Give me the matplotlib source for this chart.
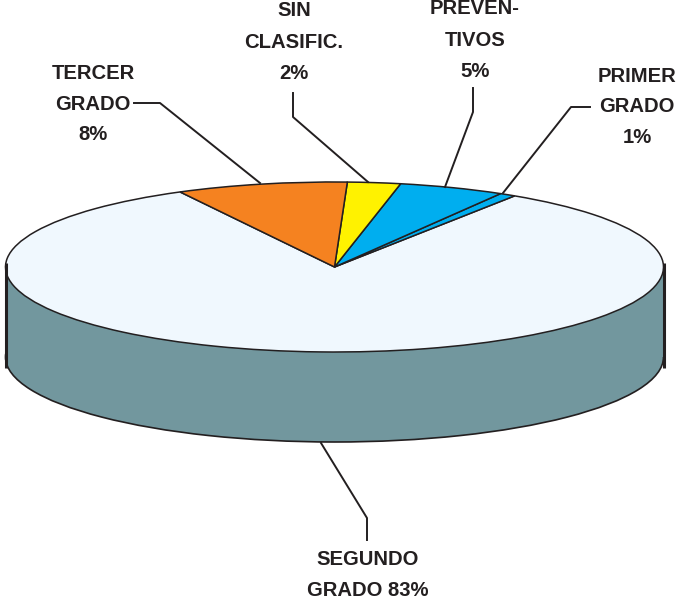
import matplotlib
matplotlib.use("Agg")
import matplotlib.pyplot as plt

# porciones (las etiquetas llevan el % redondeado)
categorias = ["SEGUNDO GRADO", "PRIMER GRADO", "PREVENTIVOS", "SIN CLASIFIC.", "TERCER GRADO"]
valores = [83.0, 0.8, 5.2, 2.6, 8.4]
colores = ["#f0f8fe", "#00aeef", "#00aeef", "#fff200", "#f58220"]
etiquetas = ["SEGUNDO\nGRADO 83%", "PRIMER\nGRADO\n1%", "PREVEN-\nTIVOS\n5%", "SIN\nCLASIFIC.\n2%", "TERCER\nGRADO\n8%"]

W, H = 678, 602
CX, CY = 334.5, 267   # centro de la tapa en pixeles
RX, RY = 329, 85      # semiejes de la elipse
PROF = 90             # alto del cilindro
NEGRO = "#231f20"
LATERAL = "#72979e"

plt.rcParams["font.family"] = ["Liberation Sans", "DejaVu Sans"]
fig = plt.figure(figsize=(W / 100, H / 100), dpi=100)
ax = fig.add_axes([0, 0, 1, 1])

# lateral del cilindro: misma torta corrida hacia abajo
p = PROF / RY
ax.pie([1], colors=[LATERAL], center=(0, -p), radius=1, startangle=0,
       wedgeprops=dict(edgecolor=NEGRO, linewidth=1.2))
ax.fill_between([-1, 1], [-p, -p], [0, 0], color=LATERAL, linewidth=0)

# tapa
ax.pie(valores, colors=colores, center=(0, 0), radius=1, startangle=118, counterclock=True,
       wedgeprops=dict(edgecolor=NEGRO, linewidth=1.1))

# bordes verticales gruesos
ax.plot([-1, -1], [0.05, -p - 0.13], color=NEGRO, lw=2.2, solid_capstyle="butt")
ax.plot([1, 1], [0.05, -p - 0.13], color=NEGRO, lw=2.2, solid_capstyle="butt")

# la elipse sale de deformar el circulo con los limites
ax.set_aspect("auto")
ax.set_xlim(-CX / RX, (W - CX) / RX)
ax.set_ylim(-(H - CY) / RY, CY / RY)
ax.axis("off")

# capa en pixeles para textos y lineas guia
ov = fig.add_axes([0, 0, 1, 1])
ov.set_xlim(0, W)
ov.set_ylim(H, 0)
ov.axis("off")
ov.patch.set_alpha(0)

guias = [
    ([321, 367, 367], [443, 518, 540]),
    ([590, 571, 503], [107, 107, 193]),
    ([473, 473, 445], [88, 112, 187]),
    ([293, 293, 368], [93, 117, 182]),
    ([134, 160, 260], [103, 103, 183]),
]
for gx, gy in guias:
    ov.plot(gx, gy, color=NEGRO, lw=1.4)

pos = [(368, 575), (637, 107), (475, 40), (294, 42), (93, 104)]
interlineas = [1.85, 1.75, 1.85, 1.85, 1.75]
for (tx, ty), txt, il in zip(pos, etiquetas, interlineas):
    ov.text(tx, ty, txt, ha="center", va="center", ma="center", fontsize=14.6,
            fontweight="bold", color=NEGRO, linespacing=il)

fig.savefig("out.png", dpi=100)
